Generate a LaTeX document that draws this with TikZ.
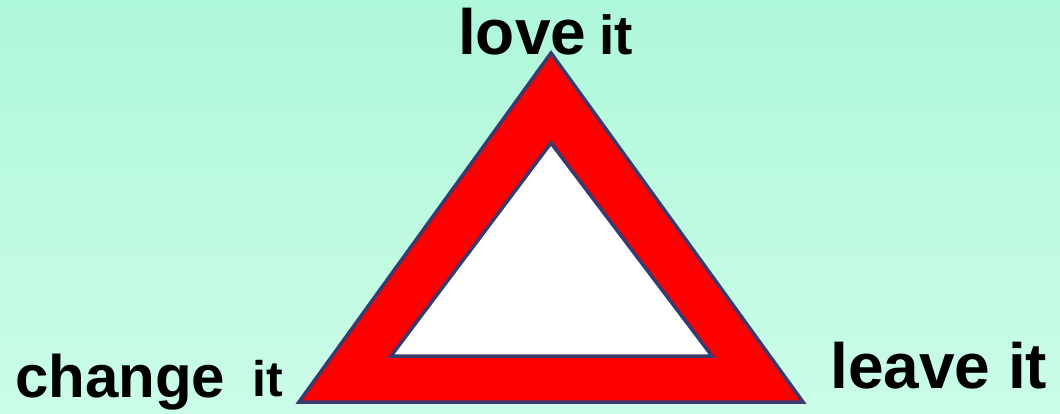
\documentclass[tikz,border=0pt]{standalone}
\usepackage{fontspec}
\setmainfont{Liberation Sans}
\definecolor{bgtop}{HTML}{AEF8DA}
\definecolor{bgbot}{HTML}{CBFCE7}
\definecolor{edge}{HTML}{3A3A6C}
\definecolor{warnred}{HTML}{FF0000}
\tikzset{
  lbl/.style={anchor=base west, inner sep=0pt, font=\bfseries},
  big/.style={font=\bfseries\fontsize{64}{64}\selectfont},
  tri/.style={draw=edge, line width=3.5pt, line join=miter}
}
\begin{document}
\begin{tikzpicture}[x=1pt, y=-1pt]
\useasboundingbox (0,0) rectangle (1060,414);
\shade[top color=bgtop, bottom color=bgbot] (0,0) rectangle (1060,414);
% outer triangle
\filldraw[tri, fill=warnred] (551,53) -- (803,402) -- (299,402) -- cycle;
% inner triangle
\filldraw[tri, fill=white] (551,143) -- (712,356) -- (391,356) -- cycle;
% labels
\node[lbl, big] (love) at (458,55) {love};
\node[lbl, font=\bfseries\fontsize{55}{55}\selectfont] (loveit) at (599,55) {it};
\node[lbl, font=\bfseries\fontsize{60}{60}\selectfont] (change) at (15,397) {change};
\node[lbl, font=\bfseries\fontsize{50}{50}\selectfont] (changeit) at (252,396) {it};
\node[lbl, big] (leave) at (830,388) {leave it};
\end{tikzpicture}
\end{document}
